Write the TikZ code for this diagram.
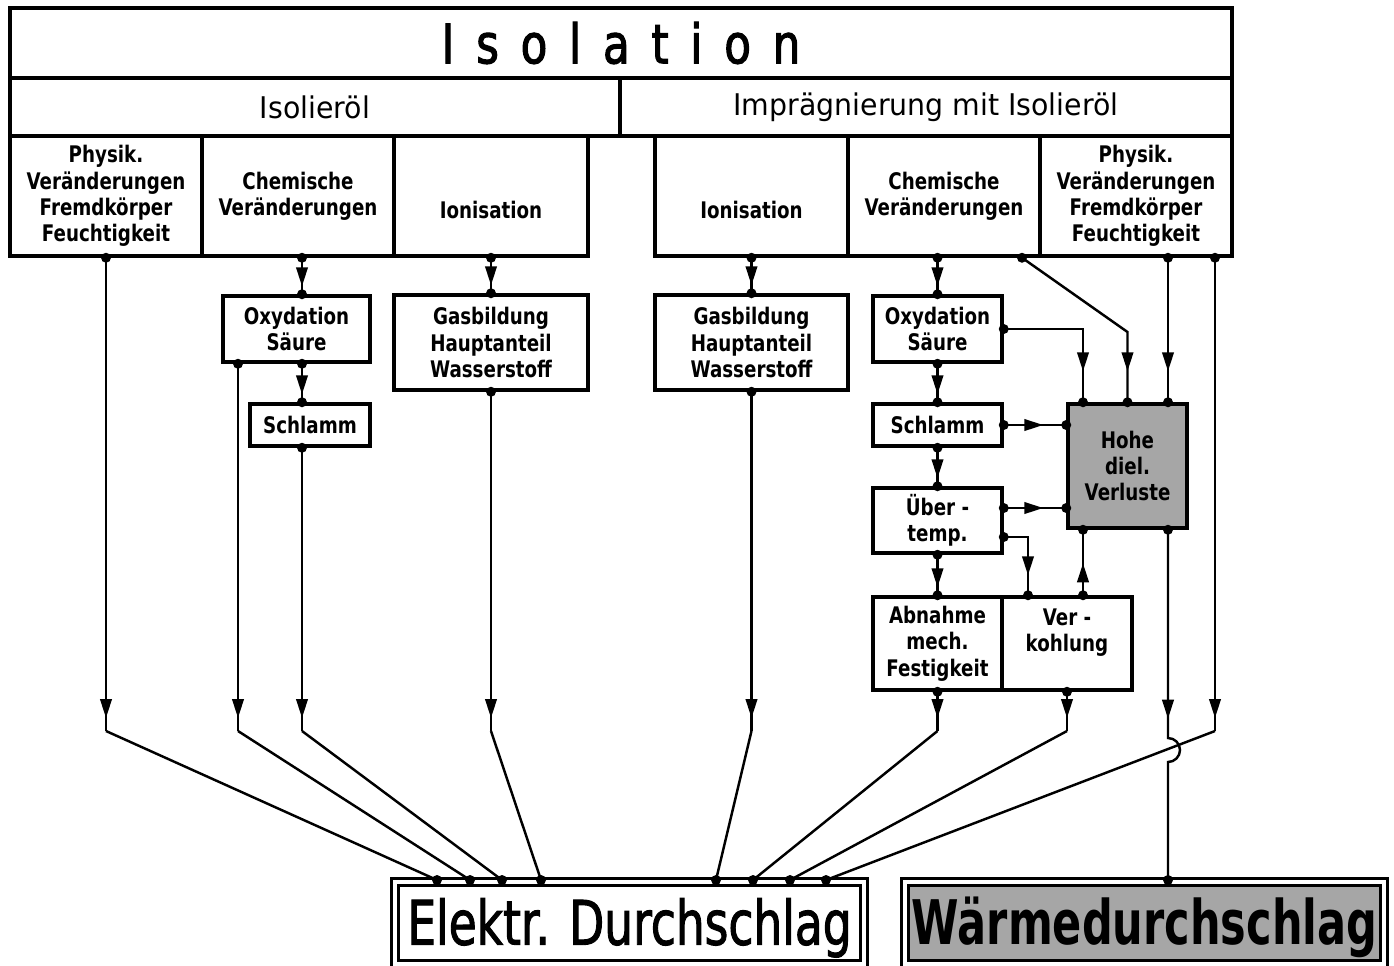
\documentclass[tikz,border=0pt]{standalone}
\usepackage{fontspec}
\setmainfont{DejaVu Sans}
\newfontfamily\labelfont{DejaVu Sans}[FakeStretch=0.80]
\newfontfamily\headfont{DejaVu Sans}[FakeStretch=0.95]
\newfontfamily\titlefont{DejaVu Sans}[FakeStretch=0.80,FakeBold=2,LetterSpace=40]
\newfontfamily\bigfont{DejaVu Sans}[FakeStretch=0.74,FakeBold=1.5]
\newfontfamily\heatfont{DejaVu Sans}[FakeStretch=0.70]
\usetikzlibrary{arrows.meta,decorations.markings,calc}

\begin{document}
\begin{tikzpicture}[x=0.02cm, y=-0.02cm]
\tikzstyle{box} = [draw, line width=2pt, inner sep=0pt, align=center,
  font=\labelfont\bfseries\fontsize{13}{15}\selectfont]
\tikzstyle{head} = [draw, line width=2pt, inner sep=0pt,
  font=\headfont\fontsize{17}{20}\selectfont]
\tikzstyle{big} = [draw, line width=0.06cm, double, double distance=0.08cm, inner sep=0pt,
  text height=0.94cm, text depth=0.06cm]
\tikzstyle{wire} = [line width=1.4pt]
\tikzset{marr/.style={postaction={decorate}, decoration={markings,
  mark=at position #1 with {\arrow{Triangle[length=0.38cm,width=0.23cm]}}}},
  marr/.default=-0.16cm}
\useasboundingbox (0,0) rectangle (1394,965);

% table head
\node[head, minimum width=24.44cm, minimum height=1.4cm,
  font=\titlefont\fontsize{31}{34}\selectfont] (isol) at (621,43) {Isolation};
\node[head, minimum width=12.2cm, minimum height=1.16cm] (oel) at (315,107) {Isolieröl};
\node[head, minimum width=12.24cm, minimum height=1.16cm] (impr) at (926,107) {Imprägnierung mit Isolieröl};

\node[box, minimum width=3.84cm, minimum height=2.4cm] (physL) at (106,196)
  {Physik.\\Veränderungen\\Fremdkörper\\Feuchtigkeit};
\node[box, minimum width=3.84cm, minimum height=2.4cm] (chemL) at (298,196)
  {Chemische\\Veränderungen};
\node[box, minimum width=3.88cm, minimum height=2.4cm] (ionL) at (491,196)
  {\strut\\Ionisation};
\node[box, minimum width=3.86cm, minimum height=2.4cm] (ionR) at (751.5,196)
  {\strut\\Ionisation};
\node[box, minimum width=3.84cm, minimum height=2.4cm] (chemR) at (944,196)
  {Chemische\\Veränderungen};
\node[box, minimum width=3.84cm, minimum height=2.4cm] (physR) at (1136,196)
  {Physik.\\Veränderungen\\Fremdkörper\\Feuchtigkeit};

% left side
\node[box, minimum width=2.94cm, minimum height=1.32cm] (oxyL) at (296.5,329) {Oxydation\\Säure};
\node[box, minimum width=2.4cm, minimum height=0.84cm] (schlL) at (310,425) {Schlamm};
\node[box, minimum width=3.88cm, minimum height=1.9cm] (gasL) at (491,342.5)
  {Gasbildung\\Hauptanteil\\Wasserstoff};

% right side
\node[box, minimum width=3.86cm, minimum height=1.9cm] (gasR) at (751.5,342.5)
  {Gasbildung\\Hauptanteil\\Wasserstoff};
\node[box, minimum width=2.58cm, minimum height=1.32cm] (oxyR) at (937.5,329) {Oxydation\\Säure};
\node[box, minimum width=2.58cm, minimum height=0.84cm] (schlR) at (937.5,425) {Schlamm};
\node[box, minimum width=2.58cm, minimum height=1.3cm] (temp) at (937.5,520.5) {Über -\\temp.};
\node[box, minimum width=2.58cm, minimum height=1.86cm] (abn) at (937.5,643.5)
  {Abnahme\\mech.\\Festigkeit};
\node[box, minimum width=2.6cm, minimum height=1.86cm] (verk) at (1067,643.5)
  {Ver -\\kohlung\\\mbox{}};
\node[box, fill=black!35, minimum width=2.38cm, minimum height=2.48cm] (hohe) at (1127.5,466)
  {Hohe\\diel.\\Verluste};

% results
\node[big, minimum width=9.38cm, minimum height=1.65cm,
  font=\bigfont\fontsize{35}{38}\selectfont] (elek) at (629.5,922.75) {Elektr. Durchschlag};
\node[big, fill=black!35, minimum width=9.58cm, minimum height=1.65cm,
  font=\heatfont\bfseries\fontsize{35}{38}\selectfont] (waerme) at (1144.5,922.75) {Wärmedurchschlag};

% ports
\coordinate (knee) at (0,731);
\coordinate (pb) at (302,0 |- chemL.south);
\coordinate (pe) at (oxyR.north |- chemR.south);
\coordinate (pf) at (1022,0 |- chemR.south);
\coordinate (pg) at (1168,0 |- physR.south);
\coordinate (ph) at (1215,0 |- physR.south);
\coordinate (oa) at (302,0 |- oxyL.north);
\coordinate (ob) at (238,0 |- oxyL.south);
\coordinate (oc) at (302,0 |- oxyL.south);
\coordinate (sa) at (302,0 |- schlL.north);
\coordinate (sb) at (302,0 |- schlL.south);
\coordinate (ta) at (temp.east |- 0,508);
\coordinate (tb) at (temp.east |- 0,537);
\coordinate (va) at (1028,0 |- verk.north);
\coordinate (vb) at (1083,0 |- verk.north);
\coordinate (ha) at (1083,0 |- hohe.north);
\coordinate (hc) at (1168,0 |- hohe.north);
\coordinate (hd) at (hohe.west |- schlR.east);
\coordinate (he) at (hohe.west |- ta);
\coordinate (hf) at (1083,0 |- hohe.south);
\coordinate (hg) at (1168,0 |- hohe.south);
\coordinate (w1) at (1168,0 |- waerme.north);
\coordinate (e1) at (437,0 |- elek.north);
\coordinate (e2) at (470,0 |- elek.north);
\coordinate (e3) at (502,0 |- elek.north);
\coordinate (e4) at (541,0 |- elek.north);
\coordinate (e5) at (716,0 |- elek.north);
\coordinate (e6) at (753,0 |- elek.north);
\coordinate (e7) at (790,0 |- elek.north);
\coordinate (e8) at (826,0 |- elek.north);

% short arrows
\foreach \from/\to in {pb/oa, oc/sa, ionL.south/gasL.north, ionR.south/gasR.north,
  pe/oxyR.north, oxyR.south/schlR.north, schlR.south/temp.north, temp.south/abn.north}
\draw [wire, marr] (\from) -- (\to);

% into the losses box
\draw [wire, marr=-0.62cm] (oxyR.east) -| (ha);
\draw [wire, marr=-0.62cm] (pf) -- (hohe.north |- 0,332) -- (hohe.north);
\draw [wire, marr=-0.62cm] (pg) -- (hc);
\draw [wire, marr=-0.46cm] (schlR.east) -- (hd);
\draw [wire, marr=-0.46cm] (ta) -- (he);
\draw [wire, marr=-0.4cm] (tb) -| (va);
\draw [wire, marr=0.64cm] (vb) -- (hf);

% down to the breakdown
\foreach \from/\to in {physL.south/e1, ob/e2, sb/e3, gasL.south/e4,
  gasR.south/e5, abn.south/e6, verk.south/e7, ph/e8} {
\draw [wire, marr=-0.26cm] (\from) -- (\from |- knee);
\draw [wire] (\from |- knee) -- (\to);
}
\draw [wire, marr=3.78cm] (hg) -- (hg |- 0,738)
  arc[start angle=90, end angle=-90, radius=0.24cm] -- (w1);

% joints
\foreach \p in {physL.south, pb, ionL.south, ionR.south, pe, pf, pg, ph,
  oa, ob, oc, sa, sb, gasL.north, gasL.south, gasR.north, gasR.south,
  oxyR.north, oxyR.east, oxyR.south, schlR.north, schlR.east, schlR.south,
  temp.north, ta, tb, temp.south, abn.north, abn.south, va, vb, verk.south,
  ha, hohe.north, hc, hd, he, hf, hg, w1, e1, e2, e3, e4, e5, e6, e7, e8}
\fill (\p) circle (0.1cm);

\end{tikzpicture}
\end{document}
